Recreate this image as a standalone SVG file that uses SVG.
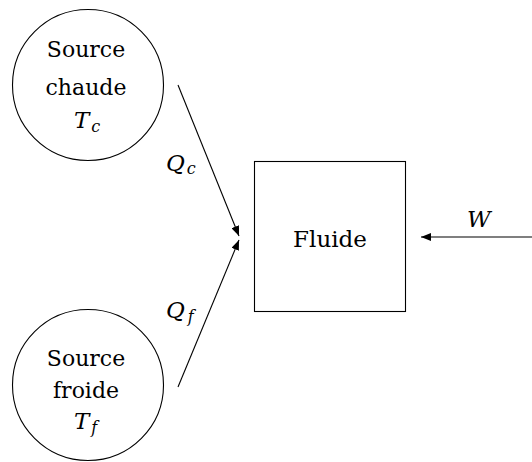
<svg xmlns="http://www.w3.org/2000/svg" width="532" height="462" viewBox="0 0 532 462">
<style>
.shape{fill:none;stroke:#000;stroke-width:1.1}
.t{font-family:'DejaVu Serif','Liberation Serif',serif;font-size:22px;fill:#000;text-anchor:middle}
.m{font-family:'DejaVu Serif','Liberation Serif',serif;font-size:23px;font-style:italic;fill:#000}
.s{font-size:16px}
.conn{stroke:#000;stroke-width:1.1;fill:none}
</style>
<defs>
<marker id="ah" viewBox="0 0 10 8" refX="10" refY="4" markerWidth="10" markerHeight="8" markerUnits="userSpaceOnUse" orient="auto">
<path d="M0,0 L10,4 L0,8 Z" fill="#000"/>
</marker>
</defs>
<rect width="532" height="462" fill="#fff"/>
<g id="source-chaude">
<circle class="shape" cx="88" cy="85" r="75.5"/>
<text class="t" x="86" y="57">Source</text>
<text class="t" x="86" y="95">chaude</text>
<text class="m" x="74" y="128">T<tspan class="s" dx="2" dy="4">c</tspan></text>
</g>
<g id="source-froide">
<circle class="shape" cx="88" cy="385" r="75.5"/>
<text class="t" x="86" y="366">Source</text>
<text class="t" x="86" y="398">froide</text>
<text class="m" x="74" y="429">T<tspan class="s" dx="2" dy="4">f</tspan></text>
</g>
<g id="fluide">
<rect class="shape" x="254.5" y="161.5" width="151" height="150"/>
<text class="t" x="330" y="247" style="font-size:23px">Fluide</text>
</g>
<g id="connectors">
<line class="conn" x1="178" y1="85" x2="239" y2="236" marker-end="url(#ah)"/>
<line class="conn" x1="178" y1="387" x2="239" y2="240" marker-end="url(#ah)"/>
<line class="conn" x1="532" y1="237" x2="421" y2="237" marker-end="url(#ah)"/>
<text class="m" x="166" y="171">Q<tspan class="s" dx="2" dy="3">c</tspan></text>
<text class="m" x="166" y="318">Q<tspan class="s" dx="3" dy="4">f</tspan></text>
<text class="m" x="467" y="227">W</text>
</g>
</svg>
